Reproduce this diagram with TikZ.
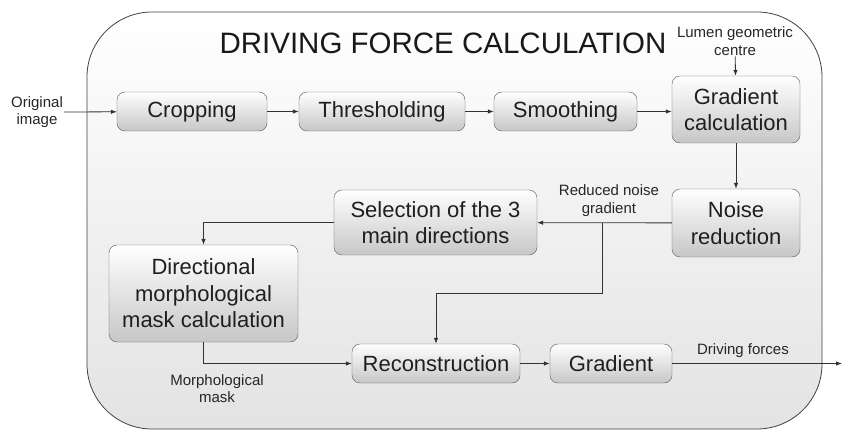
\documentclass[tikz,border=0pt]{standalone}
\usepackage{fontspec}
\setmainfont{Liberation Sans}
\usetikzlibrary{arrows.meta,positioning,calc}

\tikzset{
  stepbox/.style={draw=black!65, rounded corners=8pt, top color=white,
    bottom color=black!22, inner sep=0pt, align=center, text=black!88,
    font=\fontsize{22}{26.5}\selectfont},
  lbl/.style={align=center, inner sep=1pt, text=black!85,
    font=\fontsize{15}{17.5}\selectfont},
  conn/.style={->, draw=black!80, line width=0.8pt}
}

\begin{document}
\begin{tikzpicture}[x=1pt, y=-1pt, >={Latex[length=6pt,width=4.5pt]}]
  \useasboundingbox (0,0) rectangle (846,430);
  % outer frame
  \draw[black!75, line width=0.8pt, rounded corners=65pt, top color=white,
    bottom color=black!11] (87,12) rectangle (822,429);
  \node[text=black!90, font=\fontsize{29.5}{35}\selectfont] (title) at (443,43)
    {DRIVING FORCE CALCULATION};

  % processing steps
  \node[stepbox, minimum width=150pt, minimum height=39pt] (crop) at (192,111.5) {Cropping};
  \node[stepbox, minimum width=166pt, minimum height=39pt] (thresh) at (382,111.5) {Thresholding};
  \node[stepbox, minimum width=143pt, minimum height=39pt] (smooth) at (565.5,111.5) {Smoothing};
  \node[stepbox, minimum width=128pt, minimum height=67pt] (gradcalc) at (736,109.5) {Gradient\\calculation};
  \node[stepbox, minimum width=128pt, minimum height=68pt] (noise) at (736,223) {Noise\\reduction};
  \node[stepbox, minimum width=203pt, minimum height=65pt] (select) at (435.5,222.5) {Selection of the 3\\main directions};
  \node[stepbox, minimum width=189pt, minimum height=97pt] (dirmask) at (203.5,293.5) {Directional\\morphological\\mask calculation};
  \node[stepbox, minimum width=168pt, minimum height=39pt] (recon) at (436,363.5) {Reconstruction};
  \node[stepbox, minimum width=122pt, minimum height=39pt] (grad) at (611,363.5) {Gradient};

  % labels
  \node[lbl] (origtxt) at (37,112) {Original\\image};
  \node[lbl] (lumentxt) at (735,41) {Lumen geometric\\centre};
  \node[lbl] (rngtxt) at (609,200.5) {Reduced noise\\gradient};
  \node[lbl] (mmtxt) at (217,388.5) {Morphological\\mask};
  \node[lbl] (dftxt) at (743,351) {Driving forces};
  \coordinate (out) at (842,363.5);
  \coordinate (split) at (602,223);
  \coordinate (bend) at (602,293);

  % connectors
  \draw[conn] (origtxt.east) -- (crop);
  \draw[conn] (crop) -- (thresh);
  \draw[conn] (thresh) -- (smooth);
  \draw[conn] (smooth) -- (smooth -| gradcalc.west);
  \draw[conn] (lumentxt) -- (gradcalc);
  \draw[conn] (gradcalc) -- (noise);
  \draw[conn] (noise) -- (select);
  \draw[conn] (split) -- (bend) -| (recon.north);
  \draw[conn] (select.west) -| (dirmask.north);
  \draw[conn] (dirmask.south) |- (recon.west);
  \draw[conn] (recon) -- (grad);
  \draw[conn] (grad) -- (out);
\end{tikzpicture}
\end{document}
